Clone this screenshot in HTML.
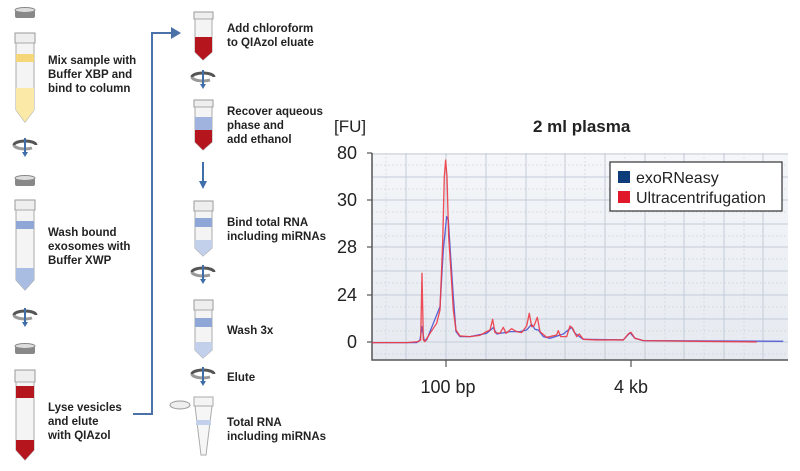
<!DOCTYPE html>
<html><head><meta charset="utf-8"><style>
html,body{margin:0;padding:0;background:#fff;}
svg{display:block;}
.t{font-family:"Liberation Sans",sans-serif;font-size:11.5px;font-weight:bold;fill:#222}
.ax{font-family:"Liberation Sans",sans-serif;font-size:18px;fill:#222}
</style></head><body>
<svg width="800" height="471" viewBox="0 0 800 471" xmlns="http://www.w3.org/2000/svg">
<defs>
<linearGradient id="bg" x1="0" y1="0" x2="0" y2="1"><stop offset="0" stop-color="#f4f6f9"/><stop offset="1" stop-color="#e6eaf0"/></linearGradient>
<g id="spin"><path d="M-11,0 a11,4 0 1,1 22,0" fill="none" stroke="#555" stroke-width="3"/><path d="M-11,0 a11,4 0 0,0 18,3" fill="none" stroke="#999" stroke-width="3"/><line x1="0" y1="-7" x2="0" y2="9" stroke="#3f6ea8" stroke-width="2"/><path d="M-3,7 L3,7 L0,12Z" fill="#3f6ea8"/></g>
<g id="cap"><rect x="-10" y="-4" width="20" height="8" rx="2" fill="#888"/><ellipse cx="0" cy="-4" rx="10" ry="2.5" fill="#ddd" stroke="#888"/></g>
</defs>
<use href="#cap" x="25" y="14"/>
<g>
<rect x="15" y="33" width="20" height="10" fill="#eee" stroke="#999"/>
<path d="M16,43 L34,43 L34,110 L25,122 L16,110Z" fill="#f4f4f4" stroke="#aaa"/>
<rect x="16" y="54" width="18" height="8" fill="#f5d77a"/>
<path d="M16,88 L34,88 L34,110 L25,122 L16,110Z" fill="#fbe9a8"/>
</g>
<use href="#spin" x="25" y="145"/>
<use href="#cap" x="25" y="182"/>
<g>
<rect x="15" y="200" width="20" height="10" fill="#eee" stroke="#999"/>
<path d="M16,210 L34,210 L34,280 L25,290 L16,280Z" fill="#f4f4f4" stroke="#aaa"/>
<rect x="16" y="221" width="18" height="8" fill="#8ea7d6"/>
<path d="M16,268 L34,268 L34,280 L25,290 L16,280Z" fill="#a9bde3"/>
</g>
<use href="#spin" x="25" y="315"/>
<use href="#cap" x="25" y="350"/>
<g>
<rect x="15" y="370" width="20" height="12" fill="#eee" stroke="#999"/>
<path d="M16,382 L34,382 L34,450 L25,460 L16,450Z" fill="#f4f4f4" stroke="#aaa"/>
<rect x="16" y="386" width="18" height="12" fill="#b5161e"/>
<path d="M16,440 L34,440 L34,450 L25,460 L16,450Z" fill="#b5161e"/>
</g>
<text class="t" x="48" y="64">Mix sample with</text>
<text class="t" x="48" y="78">Buffer XBP and</text>
<text class="t" x="48" y="92">bind to column</text>
<text class="t" x="48" y="236">Wash bound</text>
<text class="t" x="48" y="250">exosomes with</text>
<text class="t" x="48" y="264">Buffer XWP</text>
<text class="t" x="48" y="411">Lyse vesicles</text>
<text class="t" x="48" y="425">and elute</text>
<text class="t" x="48" y="439">with QIAzol</text>
<polyline points="133,414 152,414 152,33 172,33" fill="none" stroke="#4a72a8" stroke-width="2"/>
<path d="M171,27 L181,33 L171,39Z" fill="#4a72a8"/>
<g>
<rect x="194" y="12" width="19" height="7" fill="#eee" stroke="#999"/>
<path d="M195,19 L212,19 L212,52 L203,60 L195,52Z" fill="#f4f4f4" stroke="#aaa"/>
<path d="M195,37 L212,37 L212,52 L203,60 L195,52Z" fill="#b5161e"/>
</g>
<use href="#spin" x="203" y="77"/>
<g>
<rect x="194" y="100" width="19" height="7" fill="#eee" stroke="#999"/>
<path d="M195,107 L212,107 L212,142 L203,150 L195,142Z" fill="#f4f4f4" stroke="#aaa"/>
<rect x="195" y="117" width="17" height="13" fill="#9fb3de"/>
<path d="M195,130 L212,130 L212,142 L203,150 L195,142Z" fill="#b5161e"/>
</g>
<line x1="203" y1="162" x2="203" y2="182" stroke="#3f6ea8" stroke-width="2"/><path d="M199,181 L207,181 L203,189Z" fill="#3f6ea8"/>
<g>
<rect x="194" y="201" width="19" height="10" fill="#eee" stroke="#999"/>
<path d="M195,211 L212,211 L212,248 L203,256 L195,248Z" fill="#f4f4f4" stroke="#aaa"/>
<rect x="195" y="218" width="17" height="9" fill="#8ea7d6"/>
<path d="M195,240 L212,240 L212,248 L203,256 L195,248Z" fill="#c2d0ec"/>
</g>
<use href="#spin" x="203" y="272"/>
<g>
<rect x="194" y="300" width="19" height="10" fill="#eee" stroke="#999"/>
<path d="M195,310 L212,310 L212,350 L203,358 L195,350Z" fill="#f4f4f4" stroke="#aaa"/>
<rect x="195" y="318" width="17" height="9" fill="#8ea7d6"/>
<path d="M195,342 L212,342 L212,350 L203,358 L195,350Z" fill="#c2d0ec"/>
</g>
<use href="#spin" x="203" y="374"/>
<g>
<ellipse cx="180" cy="405" rx="10" ry="4" fill="#eee" stroke="#999"/>
<rect x="194" y="397" width="19" height="9" fill="#f4f4f4" stroke="#aaa"/>
<path d="M195,406 L212,406 L206,455 L201,455Z" fill="#f6f6f6" stroke="#aaa"/>
<rect x="196" y="420" width="15" height="5" fill="#c2d0ec"/>
</g>
<text class="t" x="227" y="32">Add chloroform</text>
<text class="t" x="227" y="46">to QIAzol eluate</text>
<text class="t" x="227" y="115">Recover aqueous</text>
<text class="t" x="227" y="129">phase and</text>
<text class="t" x="227" y="143">add ethanol</text>
<text class="t" x="227" y="226">Bind total RNA</text>
<text class="t" x="227" y="240">including miRNAs</text>
<text class="t" x="227" y="334">Wash 3x</text>
<text class="t" x="227" y="381">Elute</text>
<text class="t" x="227" y="426">Total RNA</text>
<text class="t" x="227" y="440">including miRNAs</text>
<text class="ax" x="334" y="132" style="font-size:17px">[FU]</text>
<text x="533" y="132" style="font-family:'Liberation Sans',sans-serif;font-size:17px;font-weight:bold;fill:#222">2 ml plasma</text>
<rect x="372" y="153" width="416" height="207" fill="url(#bg)"/>
<g stroke="#c9d1dc" stroke-width="0.8" stroke-dasharray="1.5,2.5">
<line x1="372" y1="165" x2="788" y2="165"/><line x1="372" y1="189" x2="788" y2="189"/><line x1="372" y1="212" x2="788" y2="212"/><line x1="372" y1="236" x2="788" y2="236"/><line x1="372" y1="259" x2="788" y2="259"/><line x1="372" y1="283" x2="788" y2="283"/><line x1="372" y1="307" x2="788" y2="307"/><line x1="372" y1="331" x2="788" y2="331"/><line x1="372" y1="354" x2="788" y2="354"/>
<line x1="386" y1="153" x2="386" y2="360"/><line x1="426" y1="153" x2="426" y2="360"/><line x1="466" y1="153" x2="466" y2="360"/><line x1="506" y1="153" x2="506" y2="360"/><line x1="546" y1="153" x2="546" y2="360"/><line x1="585" y1="153" x2="585" y2="360"/><line x1="625" y1="153" x2="625" y2="360"/><line x1="665" y1="153" x2="665" y2="360"/><line x1="704" y1="153" x2="704" y2="360"/><line x1="744" y1="153" x2="744" y2="360"/>
</g>
<g stroke="#c4ccd8" stroke-width="1">
<line x1="372" y1="177" x2="788" y2="177"/><line x1="372" y1="200" x2="788" y2="200"/><line x1="372" y1="224" x2="788" y2="224"/><line x1="372" y1="247" x2="788" y2="247"/><line x1="372" y1="271" x2="788" y2="271"/><line x1="372" y1="295" x2="788" y2="295"/><line x1="372" y1="319" x2="788" y2="319"/><line x1="372" y1="342" x2="788" y2="342"/><line x1="372" y1="154" x2="788" y2="154"/>
<line x1="406" y1="153" x2="406" y2="360"/><line x1="446" y1="153" x2="446" y2="360"/><line x1="486" y1="153" x2="486" y2="360"/><line x1="526" y1="153" x2="526" y2="360"/><line x1="565" y1="153" x2="565" y2="360"/><line x1="605" y1="153" x2="605" y2="360"/><line x1="645" y1="153" x2="645" y2="360"/><line x1="684" y1="153" x2="684" y2="360"/><line x1="724" y1="153" x2="724" y2="360"/><line x1="763" y1="153" x2="763" y2="360"/>
</g>
<polyline fill="none" stroke="#555" stroke-width="1.5" points="372,153 372,360 788,360"/>
<g stroke="#555" stroke-width="1.2"><line x1="367" y1="153" x2="372" y2="153"/><line x1="367" y1="200" x2="372" y2="200"/><line x1="367" y1="247" x2="372" y2="247"/><line x1="367" y1="295" x2="372" y2="295"/><line x1="367" y1="342" x2="372" y2="342"/><line x1="446" y1="360" x2="446" y2="367"/><line x1="631" y1="360" x2="631" y2="367"/></g>
<g class="ax" text-anchor="end"><text x="357" y="159">80</text><text x="357" y="206">30</text><text x="357" y="253">28</text><text x="357" y="301">24</text><text x="357" y="348">0</text></g>
<g class="ax" text-anchor="middle"><text x="448" y="393">100 bp</text><text x="631" y="393">4 kb</text></g>
<g transform="translate(330,110) scale(0.3333)" fill="none" stroke-width="4" stroke-linejoin="round">
<polyline stroke="#5a63d6" points="126,698 260,698 270,690 276,650 282,690 290,690 310,640 330,590 340,420 350,320 355,330 362,440 370,560 378,665 390,680 420,680 470,670 490,653 500,672 540,665 570,665 590,660 605,643 615,658 625,660 640,680 660,685 700,672 725,652 735,670 760,688 880,690 900,668 915,685 940,692 1360,694"/>
<polyline stroke="#ee3a45" stroke-opacity="0.9" points="126,698 230,698 265,695 272,690 276,490 280,690 285,695 300,670 320,640 330,600 338,400 343,200 347,150 351,200 356,380 362,470 370,600 378,660 390,678 420,680 450,676 470,665 480,660 488,628 495,668 510,670 520,652 528,670 545,656 560,665 575,668 590,648 598,610 605,650 612,648 622,622 630,665 650,682 680,675 685,662 692,680 710,680 720,648 728,655 740,680 748,672 760,688 800,690 880,690 895,672 903,667 915,685 940,692 1100,694 1280,696"/>
</g>
<rect x="610" y="162" width="172" height="49" fill="#fff" stroke="#333" stroke-width="1.2"/>
<rect x="618" y="171" width="12" height="12" fill="#0d3c7a"/>
<rect x="618" y="191" width="12" height="12" fill="#e0182a"/>
<text class="ax" x="636" y="183" style="font-size:16px">exoRNeasy</text>
<text class="ax" x="636" y="203" style="font-size:16px">Ultracentrifugation</text>
</svg>
</body></html>
